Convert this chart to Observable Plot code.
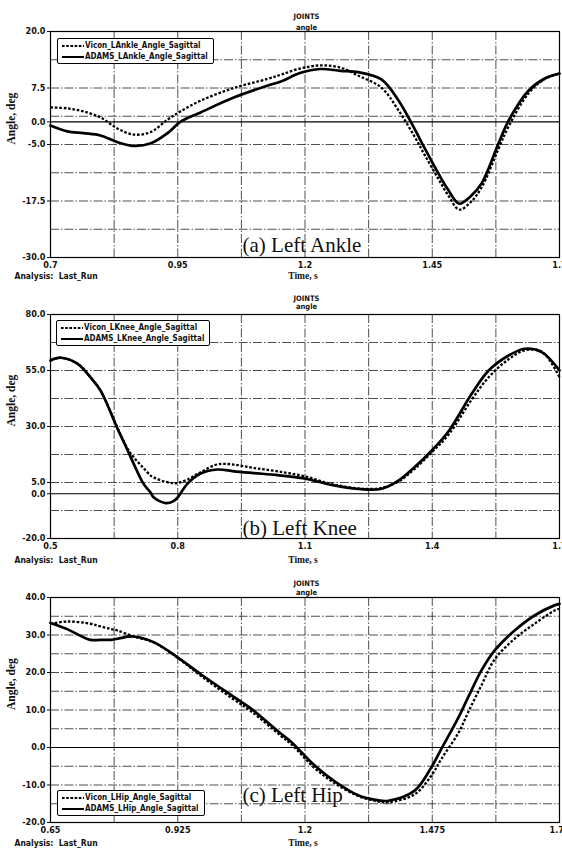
<!DOCTYPE html>
<html>
<head>
<meta charset="utf-8">
<script src="https://cdn.jsdelivr.net/npm/d3@7"></script>
<script src="https://cdn.jsdelivr.net/npm/@observablehq/plot@0.6"></script>
<style>
  body { margin: 0; background: #fff; }
  #wrap { position: relative; width: 562px; height: 852px; overflow: hidden; background: #fff; }
  .panel { position: absolute; left: 0; }
  .legend { position: absolute; border: 1.5px solid #000; border-radius: 2px; background: #fff; box-sizing: border-box;
    padding: 1px 5px 1px 4px; }
  .legend .row { height: 11px; line-height: 11px; display: flex; align-items: center; white-space: nowrap;
    font-family: 'Liberation Sans Narrow', 'DejaVu Sans Condensed', 'Liberation Sans', sans-serif; font-size: 8px; font-weight: bold; color: #111; }
  .legend svg { display: block; margin-right: 1px; }
</style>
</head>
<body>
<div id="wrap"></div>
<script>
// ---------- (a) Left Ankle ----------
const ankleT     = [0.70, 0.733, 0.765, 0.798, 0.832, 0.863, 0.896, 0.93, 0.955, 0.995, 1.06, 1.126, 1.154, 1.19, 1.23, 1.27, 1.305, 1.35, 1.384, 1.415, 1.435, 1.462, 1.48, 1.503, 1.525, 1.547, 1.58, 1.60, 1.639, 1.671, 1.70];
const ankleVicon = [3.2, 3.0, 2.3, 1.0, -1.5, -2.8, -2.3, 0.5, 2.3, 4.7, 7.5, 9.5, 10.5, 11.8, 12.5, 12.0, 10.2, 7.6, 2.5, -3.2, -7.3, -12.6, -16.0, -19.4, -17.8, -14.5, -6.0, -1.0, 6.3, 9.5, 10.7];
const ankleAdams = [-0.8, -2.1, -2.5, -3.0, -4.5, -5.3, -4.8, -2.5, 0.0, 2.1, 5.4, 8.0, 9.0, 10.8, 11.7, 11.3, 11.0, 9.4, 4.7, -1.5, -5.8, -11.4, -14.8, -18.1, -16.5, -13.6, -4.8, 0.3, 6.9, 9.6, 10.7];
const ankleXTicks = [0.7, 0.95, 1.2, 1.45, 1.7];
const ankleGridX  = [0.825, 0.95, 1.075, 1.2, 1.325, 1.45, 1.575];
const ankleYTicks = [-30, -17.5, -5, 0, 7.5, 20];
const ankleGridY  = [-23.75, -17.5, -11.25, -5, 1.25, 7.5, 13.75];

// ---------- (b) Left Knee ----------
const kneeT     = [0.50, 0.524, 0.564, 0.594, 0.618, 0.660, 0.682, 0.696, 0.719, 0.736, 0.743, 0.771, 0.790, 0.800, 0.823, 0.854, 0.894, 0.932, 0.979, 1.035, 1.099, 1.163, 1.233, 1.281, 1.321, 1.358, 1.399, 1.439, 1.493, 1.533, 1.580, 1.618, 1.658, 1.70];
const kneeVicon = [59.5, 60.7, 58, 52, 46, 28.5, 20.0, 16.3, 11.5, 8.1, 7.3, 5.3, 4.7, 4.8, 6.3, 9.6, 13.1, 13.0, 11.5, 10.0, 7.8, 4.3, 2.2, 2.6, 5.5, 11.0, 18.5, 26.5, 42, 52, 60, 64.0, 63.5, 52];
const kneeAdams = [59.5, 60.7, 58, 52, 46, 28.2, 19.3, 13.4, 4.5, 0.5, -1.6, -4.2, -3.3, -1.6, 4.5, 9.0, 10.8, 10.0, 9.2, 8.3, 6.8, 3.9, 2.0, 2.2, 5.9, 11.8, 19.3, 28.0, 44.6, 55, 61.7, 64.7, 63.2, 55];
const kneeXTicks = [0.5, 0.8, 1.1, 1.4, 1.7];
const kneeGridX  = [0.65, 0.8, 0.95, 1.1, 1.25, 1.4, 1.55];
const kneeYTicks = [-20, 0, 5, 30, 55, 80];
const kneeGridY  = [-7.5, 5, 17.5, 30, 42.5, 55, 67.5];

// ---------- (c) Left Hip ----------
const hipT     = [0.65, 0.687, 0.736, 0.758, 0.780, 0.795, 0.829, 0.873, 0.924, 0.974, 1.046, 1.082, 1.149, 1.171, 1.221, 1.264, 1.316, 1.359, 1.380, 1.437, 1.473, 1.495, 1.532, 1.553, 1.581, 1.610, 1.653, 1.696, 1.739, 1.75];
const hipVicon = [33.0, 33.6, 33.0, 32.3, 31.6, 31.2, 29.6, 28.0, 24.0, 19.2, 12.8, 9.8, 3.0, 0.8, -5.5, -9.5, -13.0, -14.4, -14.6, -12.5, -7.5, -3.0, 4.0, 9.5, 16.5, 23.5, 29.0, 33.0, 36.5, 37.0];
const hipAdams = [33.2, 31.5, 28.7, 28.7, 28.7, 29.0, 29.6, 28.1, 24.1, 19.6, 13.5, 10.5, 3.6, 1.4, -4.8, -9.0, -12.8, -14.1, -14.2, -11.5, -5.3, -0.3, 8.1, 13.5, 20.5, 25.9, 31.2, 35.2, 37.9, 38.3];
const hipXTicks = [0.65, 0.925, 1.2, 1.475, 1.75];
const hipGridX  = [0.7875, 0.925, 1.0625, 1.2, 1.3375, 1.475, 1.6125];
const hipYTicks = [-20, -10, 0, 10, 20, 30, 40];
const hipGridY  = [-15, -10, -5, 5, 10, 15, 20, 25, 30, 35];

const SANS = "'Liberation Sans Narrow','DejaVu Sans Condensed','Liberation Sans',sans-serif";
const SERIF = "'Liberation Serif','DejaVu Serif',serif";

function panel(cfg) {
  const rows = cfg.t.map((d, i) => ({t: d, v: cfg.vicon[i], a: cfg.adams[i]}));
  const gridStyle = {stroke: "#222", strokeWidth: 0.8, strokeDasharray: "9,2,1.5,2"};
  return Plot.plot({
    width: 562,
    height: cfg.height,
    marginLeft: 50, marginRight: 3, marginTop: cfg.marginTop, marginBottom: cfg.marginBottom,
    style: {fontFamily: SANS, fontSize: "9px", fontWeight: "bold", background: "white", color: "#111"},
    x: {domain: cfg.xDomain, ticks: cfg.xTicks, tickFormat: d => String(+d.toFixed(3)), tickSize: 0, tickPadding: 4, label: null},
    y: {domain: cfg.yDomain, ticks: cfg.yTicks, tickFormat: d => d.toFixed(1), tickSize: 3, tickPadding: 2, label: null},
    marks: [
      Plot.ruleY(cfg.gridY, gridStyle),
      Plot.ruleX(cfg.gridX, gridStyle),
      Plot.ruleY([0], {stroke: "#000", strokeWidth: 1.1}),
      Plot.line(rows, {x: "t", y: "a", stroke: "#000", strokeWidth: 2.7, curve: "catmull-rom"}),
      Plot.line(rows, {x: "t", y: "v", stroke: "#000", strokeWidth: 2.3, strokeDasharray: "2.6,1.8", strokeLinecap: "butt", curve: "catmull-rom"}),
      Plot.frame({stroke: "#000", strokeWidth: 1.2}),
      Plot.text(["JOINTS"], {text: d => d, frameAnchor: "top", dx: 1.5, dy: cfg.titleDy[0], fontSize: 7.5, fontWeight: "bold"}),
      Plot.text(["angle"], {text: d => d, frameAnchor: "top", dx: 1.5, dy: cfg.titleDy[1], fontSize: 7.5, fontWeight: "bold"}),
      Plot.text(["Time, s"], {text: d => d, frameAnchor: "bottom", dx: -2, dy: cfg.footDy, fontFamily: SERIF, fontSize: 9.5, fontWeight: "bold"}),
      Plot.text(["Analysis:  Last_Run"], {text: d => d, frameAnchor: "bottom-left", dx: -36, dy: cfg.footDy, textAnchor: "start", fontSize: 8.5, fontWeight: "bold"}),
      Plot.text(["Angle, deg"], {text: d => d, frameAnchor: "left", rotate: -90, dx: -39, fontFamily: SERIF, fontSize: 11.5, fontWeight: "bold"}),
      Plot.text([cfg.label], {text: d => d, frameAnchor: "bottom-left", dx: 192, dy: cfg.labelDy, textAnchor: "start", lineAnchor: "bottom", fontFamily: SERIF, fontSize: 21, fontWeight: "normal"})
    ]
  });
}

function legend(names, left, top) {
  const box = document.createElement("div");
  box.className = "legend";
  Object.assign(box.style, {left: left + "px", top: top + "px"});
  names.forEach((n, i) => {
    const row = document.createElement("div");
    row.className = "row";
    const dash = i === 0 ? "2.6,1.6" : "none";
    row.innerHTML = `<svg width="22" height="6"><line x1="0" y1="3" x2="22" y2="3" stroke="#000" stroke-width="2" stroke-dasharray="${dash}"/></svg><span>${n}</span>`;
    box.appendChild(row);
  });
  return box;
}

const wrap = document.getElementById("wrap");
const configs = [
  {top: 0, height: 284, marginTop: 31, marginBottom: 27, t: ankleT, vicon: ankleVicon, adams: ankleAdams,
   xDomain: [0.7, 1.7], xTicks: ankleXTicks, gridX: ankleGridX, yDomain: [-30, 20], yTicks: ankleYTicks, gridY: ankleGridY,
   label: "(a) Left Ankle", titleDy: [-17.5, -7], footDy: 21, labelDy: -6,
   legend: [["Vicon_LAnkle_Angle_Sagittal", "ADAMS_LAnkle_Angle_Sagittal"], 57, 38]},
  {top: 284, height: 283, marginTop: 30, marginBottom: 29, t: kneeT, vicon: kneeVicon, adams: kneeAdams,
   xDomain: [0.5, 1.7], xTicks: kneeXTicks, gridX: kneeGridX, yDomain: [-20, 80], yTicks: kneeYTicks, gridY: kneeGridY,
   label: "(b) Left Knee", titleDy: [-19, -11], footDy: 24, labelDy: -4,
   legend: [["Vicon_LKnee_Angle_Sagittal", "ADAMS_LKnee_Angle_Sagittal"], 56, 320]},
  {top: 567, height: 285, marginTop: 30, marginBottom: 30, t: hipT, vicon: hipVicon, adams: hipAdams,
   xDomain: [0.65, 1.75], xTicks: hipXTicks, gridX: hipGridX, yDomain: [-20, 40], yTicks: hipYTicks, gridY: hipGridY,
   label: "(c) Left Hip", titleDy: [-17, -8], footDy: 23, labelDy: -21,
   legend: [["Vicon_LHip_Angle_Sagittal", "ADAMS_LHip_Angle_Sagittal"], 57, 790]}
];
configs.forEach(cfg => {
  const holder = document.createElement("div");
  holder.className = "panel";
  holder.style.top = cfg.top + "px";
  holder.appendChild(panel(cfg));
  wrap.appendChild(holder);
  const [names, l, t] = cfg.legend;
  wrap.appendChild(legend(names, l, t));
});
</script>
</body>
</html>
